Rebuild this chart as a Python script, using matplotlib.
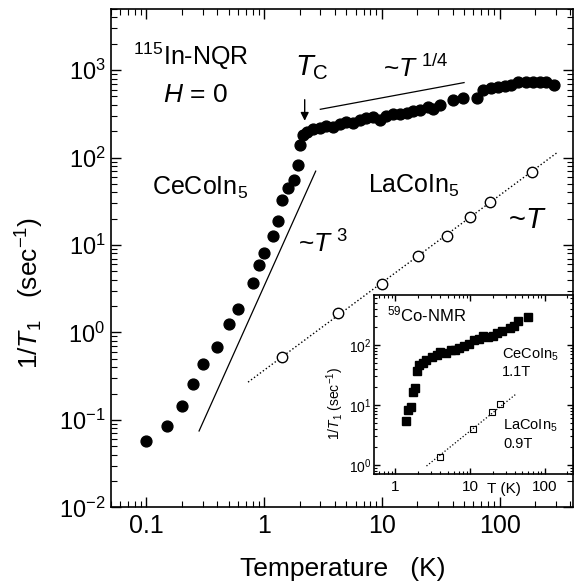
import matplotlib
matplotlib.use("Agg")
import matplotlib.pyplot as plt
import numpy as np
from matplotlib.ticker import LogLocator, FixedLocator, FixedFormatter, NullFormatter

plt.rcParams["font.family"] = ["Liberation Sans", "DejaVu Sans"]
plt.rcParams["mathtext.fontset"] = "custom"
plt.rcParams["mathtext.rm"] = "Liberation Sans"
plt.rcParams["mathtext.it"] = "Liberation Sans:italic"
plt.rcParams["mathtext.bf"] = "Liberation Sans:bold"
plt.rcParams["axes.unicode_minus"] = False

# CeCoIn5, 115In-NQR, H = 0 (filled circles)
ce_T = [0.1, 0.15, 0.2, 0.25, 0.3, 0.4, 0.5, 0.6, 0.8, 0.9, 1.0, 1.2, 1.3, 1.43,
        1.59, 1.78, 1.94, 2.03, 2.15, 2.29, 2.60, 2.97, 3.38, 3.85, 4.38, 5.00,
        5.69, 6.49, 7.39, 8.42, 9.60, 10.9, 12.5, 14.2, 16.2, 18.4, 21.0, 24.7,
        27.2, 31.0, 40.3, 49.0, 63.7, 72.5, 85.3, 97.1, 111, 126, 144, 169, 193,
        220, 250, 288]
ce_R = [0.058, 0.085, 0.145, 0.26, 0.44, 0.68, 1.24, 1.84, 3.63, 5.95, 8.1, 12.8,
        18.6, 33, 45, 55, 83, 138, 180, 196, 214, 220, 228, 224, 240, 255, 249,
        267, 287, 291, 272, 297, 318, 318, 324, 341, 354, 379, 364, 397, 453, 481,
        481, 590, 617, 643, 661, 685, 723, 734, 734, 723, 734, 685]

# LaCoIn5 (open circles)
la_T = [1.41, 4.25, 10.0, 20.3, 35.8, 55.8, 82.6, 187]
la_R = [0.525, 1.65, 3.57, 7.4, 12.6, 21.1, 31, 68]

# guide lines
t3_T = [0.28, 2.74]
t3_amp = 3.4
t14_T = [3.0, 49.9]
t14_amp = 271
lin_T = [0.73, 310]
lin_amp = 0.37

# inset: 59Co-NMR
ice_T = [1.40, 1.48, 1.59, 1.69, 1.82, 1.95, 2.07, 2.30, 2.60, 3.04, 3.55, 4.0,
         4.73, 5.47, 6.25, 7.14, 8.26, 9.72, 11.2, 13.1, 15.0, 17.2, 20.0, 22.7,
         26.5, 34.2, 38.7, 44.3, 59.1]
ice_R = [5.4, 8.3, 9.4, 16.7, 19, 36.9, 46, 49.5, 56, 64, 68, 77, 74.5, 82.5,
         82.5, 88, 96, 103, 121, 124, 141, 134, 141, 157, 173, 190, 207, 251, 296]
ila_T = [3.93, 10.8, 19.4, 25.1]
ila_R = [1.37, 3.98, 7.7, 10.4]
ilin_T = [2.6, 42]

xticks = [0.1, 1, 10, 100]
xtick_labels = ["0.1", "1", "10", "100"]
ixticks = [1, 10, 100]
ixtick_labels = ["1", "10", "100"]


def style_log_axes(ax, major_len, minor_len, labelsize):
    ax.set_xscale("log")
    ax.set_yscale("log")
    ax.tick_params(which="both", direction="in", top=True, right=True)
    ax.tick_params(which="major", length=major_len, width=1.0, labelsize=labelsize)
    ax.tick_params(which="minor", length=minor_len, width=0.8)
    ax.xaxis.set_minor_locator(LogLocator(base=10, subs=np.arange(2, 10), numticks=20))
    ax.yaxis.set_minor_locator(LogLocator(base=10, subs=np.arange(2, 10), numticks=20))
    ax.xaxis.set_minor_formatter(NullFormatter())
    ax.yaxis.set_minor_formatter(NullFormatter())
    for s in ax.spines.values():
        s.set_linewidth(1.2)


fig = plt.figure(figsize=(5.82, 5.86), dpi=100)
ax = fig.add_axes([0.1907, 0.1343, 0.7938, 0.8503])
style_log_axes(ax, 7, 4, 17)
ax.set_xlim(0.05, 420)
ax.set_ylim(0.01, 5000)
ax.xaxis.set_major_locator(FixedLocator(xticks))
ax.xaxis.set_major_formatter(FixedFormatter(xtick_labels))
ax.yaxis.set_major_locator(LogLocator(base=10, numticks=10))
ax.tick_params(axis="x", labelsize=18, pad=5)
ax.tick_params(axis="y", pad=4)

ax.plot(ce_T, ce_R, "o", color="black", ms=7.8, zorder=3)
ax.plot(la_T, la_R, "o", mfc="white", mec="black", mew=1.0, ms=7.5, zorder=3)

t3 = np.array(t3_T)
ax.plot(t3, t3_amp * t3 ** 3, "-", color="black", lw=0.9)
t14 = np.array(t14_T)
ax.plot(t14, t14_amp * t14 ** 0.25, "-", color="black", lw=0.9)
tl = np.array(lin_T)
ax.plot(tl, lin_amp * tl, ":", color="black", lw=1.0, zorder=2)

ax.annotate("", xy=(2.21, 245), xytext=(2.21, 494),
            arrowprops=dict(arrowstyle="-|>", color="black", lw=1.0, mutation_scale=12))

ax.text(0.048, 0.888, r"$^{115}$In-NQR", transform=ax.transAxes, fontsize=18)
ax.text(0.113, 0.814, r"$H$ = 0", transform=ax.transAxes, fontsize=19)
ax.text(0.089, 0.627, r"CeCoIn$_5$", transform=ax.transAxes, fontsize=18)
ax.text(0.398, 0.868, r"$T_{\mathrm{C}}$", transform=ax.transAxes, fontsize=21)
ax.text(0.589, 0.864, r"~$T^{\ 1/4}$", transform=ax.transAxes, fontsize=19)
ax.text(0.405, 0.512, r"~$T^{\ 3}$", transform=ax.transAxes, fontsize=19)
ax.text(0.556, 0.631, r"LaCoIn$_5$", transform=ax.transAxes, fontsize=18)
ax.text(0.860, 0.561, r"~$T$", transform=ax.transAxes, fontsize=21)

fig.text(343 / 582, 1 - 569 / 586, "Temperature   (K)", fontsize=19,
         ha="center", va="center")
fig.text(30 / 582, 1 - 293 / 586, r"1/$T_1$   (sec$^{-1}$)", fontsize=19,
         ha="center", va="center", rotation=90)

# inset
ins = fig.add_axes([0.6431, 0.1906, 0.3419, 0.306])
style_log_axes(ins, 4, 2, 10)
ins.set_xlim(0.52, 240)
ins.set_ylim(0.7, 680)
ins.xaxis.set_major_locator(FixedLocator(ixticks))
ins.xaxis.set_major_formatter(FixedFormatter(ixtick_labels))
ins.yaxis.set_major_locator(LogLocator(base=10, numticks=10))
ins.tick_params(axis="x", labelsize=11, pad=4)
ins.tick_params(axis="y", pad=2)

ins.plot(ice_T, ice_R, "s", color="black", ms=5.2)
ins.plot(ila_T, ila_R, "s", mfc="white", mec="black", mew=0.8, ms=5.0)
il = np.array(ilin_T)
ins.plot(il, lin_amp * il, ":", color="black", lw=0.9)

ins.text(0.062, 0.851, r"$^{59}$Co-NMR", transform=ins.transAxes, fontsize=12)
ins.text(0.640, 0.647, r"CeCoIn$_5$", transform=ins.transAxes, fontsize=10.5)
ins.text(0.640, 0.548, "1.1T", transform=ins.transAxes, fontsize=10.5)
ins.text(0.648, 0.247, r"LaCoIn$_5$", transform=ins.transAxes, fontsize=10.5)
ins.text(0.648, 0.145, "0.9T", transform=ins.transAxes, fontsize=10.5)
ins.text(0.566, -0.106, "T (K)", transform=ins.transAxes, fontsize=11)
fig.text(335 / 582, 1 - 403 / 586, r"1/$T_1$ (sec$^{-1}$)", fontsize=10,
         ha="center", va="center", rotation=90)

fig.savefig("out.png", dpi=100)
